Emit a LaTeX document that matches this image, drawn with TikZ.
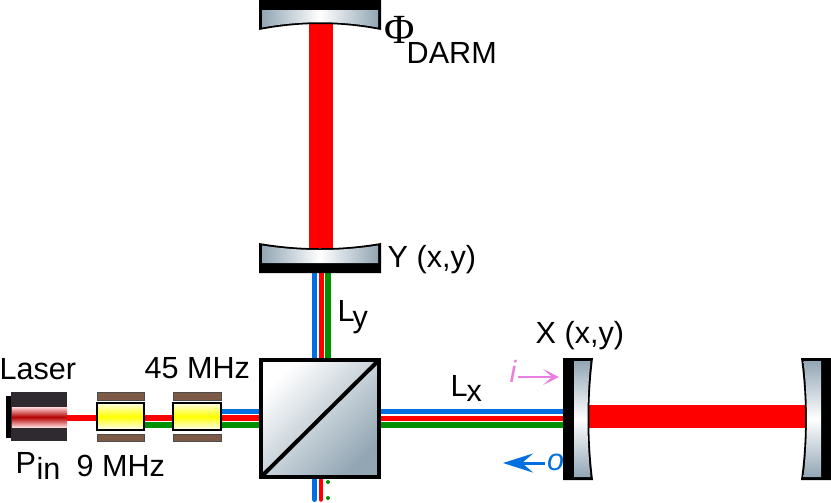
\documentclass[tikz,border=0pt]{standalone}
\usepackage{fontspec}
\usetikzlibrary{arrows.meta}
\setmainfont{Liberation Sans}
\newfontfamily\phifont{Liberation Serif}
\definecolor{beamred}{RGB}{255,0,0}
\definecolor{beamblue}{RGB}{0,112,224}
\definecolor{beamgreen}{RGB}{0,144,0}
\definecolor{mirrorgray}{RGB}{146,166,180}
\definecolor{platebrown}{RGB}{125,90,70}
\definecolor{laserbody}{RGB}{46,42,48}
\definecolor{laserred}{RGB}{180,0,0}
\definecolor{lightpink}{RGB}{232,127,224}
\tikzset{
  label/.style={inner sep=0, anchor=base west, font=\fontsize{8.7}{10}\selectfont},
  redbeam/.style={draw=none, fill=beamred},
  bluebeam/.style={draw=none, fill=beamblue},
  greenbeam/.style={draw=none, fill=beamgreen},
  plate/.style={draw=black!70, line width=0.2pt, fill=platebrown},
  crystal/.style={draw=black, line width=0.4pt, top color=yellow!10, bottom color=white, middle color=yellow},
  sidemirror/.style={left color=mirrorgray, right color=mirrorgray, middle color=white},
  endmirror/.style={top color=mirrorgray, bottom color=mirrorgray, middle color=white},
}
\begin{document}
\begin{tikzpicture}
\useasboundingbox (0, 0) rectangle (8.31, -5.02);

% arm beams
\fill[redbeam] (3.09, -0.2) rectangle (3.33, -2.48);
\fill[redbeam] (5.85, -4.05) rectangle (8.07, -4.28);

% y arm
\fill[bluebeam] (3.115, -2.7) rectangle (3.17, -3.6);
\fill[redbeam] (3.19, -2.7) rectangle (3.235, -3.6);
\fill[greenbeam] (3.25, -2.7) rectangle (3.305, -3.6);

% x arm
\fill[bluebeam] (3.8, -4.085) rectangle (5.65, -4.14);
\fill[redbeam] (3.8, -4.155) rectangle (5.65, -4.205);
\fill[greenbeam] (3.8, -4.22) rectangle (5.65, -4.275);

% input beams
\fill[redbeam] (0.66, -4.15) rectangle (1.74, -4.205);
\fill[redbeam] (1.44, -4.15) rectangle (2.6, -4.21);
\fill[greenbeam] (1.44, -4.22) rectangle (2.6, -4.275);
\fill[bluebeam] (2.2, -4.085) rectangle (2.6, -4.14);

% output port
\draw[beamblue, line width=0.5mm, line cap=round] (3.145, -4.8) -- (3.145, -4.995);
\draw[beamred, line width=0.45mm, line cap=round] (3.21, -4.8) -- (3.21, -4.995);
\fill[beamgreen] (3.28, -4.82) circle (0.02);
\fill[beamgreen] (3.28, -4.98) circle (0.02);

% beam splitter
\shade[draw=black, line width=0.04cm, top color=white, bottom color=mirrorgray, shading angle=45] (2.61, -3.6) rectangle (3.79, -4.77);
\draw[line width=0.04cm] (2.61, -4.77) -- (3.79, -3.6);

% top mirror
\fill (2.59, 0) -- (3.81, 0) -- (3.81, -0.3) .. controls (3.4, -0.22) and (3.0, -0.22) .. (2.59, -0.3) -- cycle;
\shade[sidemirror] (2.62, -0.1) -- (3.78, -0.1) -- (3.78, -0.275) .. controls (3.4, -0.205) and (3.0, -0.205) .. (2.62, -0.275) -- cycle;

% y mirror
\fill (2.59, -2.73) -- (3.81, -2.73) -- (3.81, -2.43) .. controls (3.4, -2.5) and (3.0, -2.5) .. (2.59, -2.43) -- cycle;
\shade[sidemirror] (2.62, -2.63) -- (3.78, -2.63) -- (3.78, -2.455) .. controls (3.4, -2.515) and (3.0, -2.515) .. (2.62, -2.455) -- cycle;

% x mirror
\fill (5.63, -3.58) -- (5.93, -3.58) .. controls (5.88, -3.98) and (5.88, -4.4) .. (5.93, -4.8) -- (5.63, -4.8) -- cycle;
\shade[endmirror] (5.74, -3.61) -- (5.905, -3.61) .. controls (5.865, -3.98) and (5.865, -4.4) .. (5.905, -4.77) -- (5.74, -4.77) -- cycle;

% end mirror
\fill (8.31, -3.58) -- (8.01, -3.58) .. controls (8.065, -3.98) and (8.065, -4.4) .. (8.01, -4.8) -- (8.31, -4.8) -- cycle;
\shade[endmirror] (8.21, -3.61) -- (8.035, -3.61) .. controls (8.08, -3.98) and (8.08, -4.4) .. (8.035, -4.77) -- (8.21, -4.77) -- cycle;

% laser
\fill (0.06, -3.96) rectangle (0.12, -4.38);
\fill[laserbody] (0.11, -3.92) rectangle (0.67, -4.41);
\shade[top color=red!15!white, bottom color=red!15!white, middle color=laserred] (0.12, -4.07) rectangle (0.67, -4.27);

% modulators
\fill[plate] (0.97, -3.92) rectangle (1.44, -4);
\fill[plate] (0.97, -4.34) rectangle (1.44, -4.41);
\shade[crystal] (0.97, -4.03) rectangle (1.44, -4.3);
\fill[plate] (1.73, -3.92) rectangle (2.21, -4);
\fill[plate] (1.73, -4.34) rectangle (2.21, -4.41);
\shade[crystal] (1.73, -4.03) rectangle (2.21, -4.3);

% signal arrows
\node[label, text=lightpink] (inlabel) at (5.09, -3.82) {\textit{i}};
\coordinate (instart) at (5.18, -3.77);
\coordinate (inend) at (5.59, -3.77);
\draw[lightpink, line width=0.25mm, -{Stealth[length=1.6mm, width=1.6mm, inset=0.9mm]}] (instart) -- (inend);
\node[label, text=beamblue] (outlabel) at (5.465, -4.7) {\textit{o}};
\coordinate (outstart) at (5.45, -4.63);
\coordinate (outend) at (5.03, -4.63);
\draw[beamblue, line width=0.3mm, -{Stealth[length=3mm, width=1.9mm, inset=1.1mm]}] (outstart) -- (outend);

% labels
\node[label] (laser) at (-0.01, -3.79) {Laser};
\node[label] (pin) at (0.15, -4.73) {P};
\node[label] (pinsub) at (0.36, -4.79) {in};
\node[label] (ninemhz) at (0.76, -4.76) {9 MHz};
\node[label] (fivemhz) at (1.44, -3.78) {45 MHz};
\node[label] (lx) at (4.5, -3.96) {L};
\node[label] (lxsub) at (4.66, -4.01) {x};
\node[label] (ly) at (3.37, -3.21) {L};
\node[label] (lysub) at (3.52, -3.27) {y};
\node[label] (xmirror) at (5.35, -3.43) {X (x,y)};
\node[label] (ymirror) at (3.87, -2.67) {Y (x,y)};
\node[inner sep=0, anchor=base west, font=\fontsize{11.8}{13}\selectfont\phifont] (phi) at (3.84, -0.43) {Φ};
\node[label] (darm) at (4.06, -0.63) {DARM};
\end{tikzpicture}
\end{document}
